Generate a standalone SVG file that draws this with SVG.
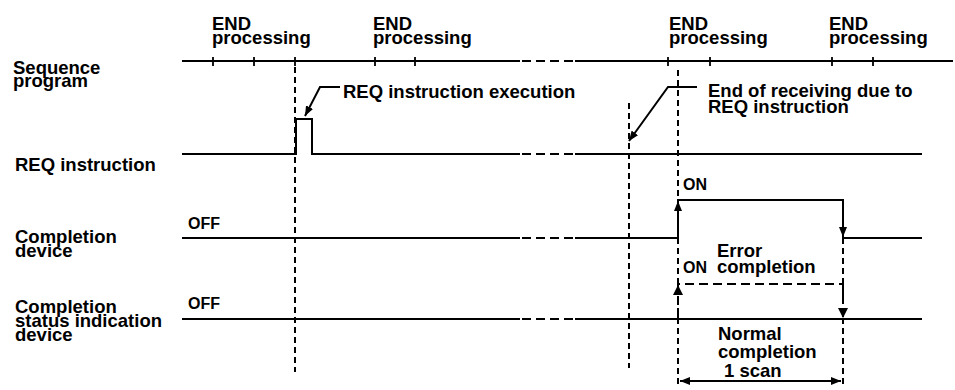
<svg xmlns="http://www.w3.org/2000/svg" width="955" height="390" viewBox="0 0 955 390">
<defs>
<style>
.t{font-family:"Liberation Sans",Arial,sans-serif;font-weight:bold;font-size:18.5px;fill:#000}
.s{font-family:"Liberation Sans",Arial,sans-serif;font-weight:bold;font-size:16px;fill:#000}
.ln{stroke:#000;stroke-width:2;fill:none}
.ds{stroke:#000;stroke-width:2;fill:none;stroke-dasharray:9 5}
.dv{stroke:#000;stroke-width:2;fill:none;stroke-dasharray:6 4}
.tk{stroke:#000;stroke-width:1.8}
</style>
<marker id="ah" viewBox="0 0 10 8" refX="10" refY="4" markerWidth="10" markerHeight="8" markerUnits="userSpaceOnUse" orient="auto-start-reverse">
<path d="M0,0 L10,4 L0,8 Z" fill="#000"/>
</marker>
</defs>
<rect width="955" height="390" fill="#fff"/>

<g id="end-labels">
<text class="t" x="212" y="29.5">END<tspan x="212" y="44">processing</tspan></text>
<text class="t" x="373" y="29.5">END<tspan x="373" y="44">processing</tspan></text>
<text class="t" x="669" y="29.5">END<tspan x="669" y="44">processing</tspan></text>
<text class="t" x="829" y="29.5">END<tspan x="829" y="44">processing</tspan></text>
</g>

<g id="sequence-program">
<text class="t" x="13" y="74">Sequence<tspan x="13" y="87">program</tspan></text>
<path class="ln" d="M182,61 H520 M575,61 H953"/>
<path class="ds" d="M522,61 H575"/>
<path class="tk" d="M213,57 V66 M254,57 V66 M295,57 V66 M375,57 V66 M415,57 V66 M668,57 V66 M710,57 V66 M832,57 V66 M873,57 V66"/>
</g>

<g id="req-instruction">
<text class="t" x="15" y="171">REQ instruction</text>
<path class="ln" d="M182,154 H296 V119 H312 V154 H520 M575,154 H922"/>
<path class="ds" d="M522,154 H575"/>
</g>

<g id="req-exec-note">
<text class="t" x="343" y="98">REQ instruction execution</text>
</g>

<g id="end-receiving-note">
<text class="t" x="708" y="97">End of receiving due to<tspan x="708" y="113">REQ instruction</tspan></text>
</g>

<g id="completion-device">
<text class="t" x="15" y="243">Completion<tspan x="15" y="257">device</tspan></text>
<text class="s" x="188" y="229">OFF</text>
<text class="s" x="683" y="190">ON</text>
<path class="ln" d="M182,238 H520 M575,238 H678 V200 H843 V238 H922"/>
<path class="ds" d="M522,238 H575"/>
</g>

<g id="completion-status">
<text class="t" x="15" y="313">Completion<tspan x="15" y="327">status indication</tspan><tspan x="15" y="341">device</tspan></text>
<text class="s" x="188" y="309">OFF</text>
<text class="s" x="683" y="273">ON</text>
<text class="t" x="717" y="257">Error<tspan x="717" y="273">completion</tspan></text>
<path class="ln" d="M182,319 H520 M575,319 H922"/>
<path class="ds" d="M522,319 H575"/>
</g>

<g id="normal-completion">
<text class="t" x="718" y="340">Normal<tspan x="718" y="358">completion</tspan><tspan x="724" y="377">1 scan</tspan></text>
</g>

<g id="connectors">
<path class="dv" d="M295,67 V372"/>
<path class="dv" d="M629,103 V368"/>
<path class="dv" d="M678,70 V200"/>
<path class="dv" d="M678,238 V388"/>
<path class="dv" d="M843,238 V388"/>
<path class="ln" d="M340,87 H320 L305,116" marker-end="url(#ah)"/>
<path class="ln" d="M697,87 H668 L629,141" marker-end="url(#ah)"/>
<path class="ln" d="M678,238 V201" marker-end="url(#ah)"/>
<path class="ln" d="M843,200 V237" marker-end="url(#ah)"/>
<path class="ds" d="M678,319 V284 H843 V318"/>
<path d="M673,295 L678,285 L683,295 Z" fill="#000"/>
<path d="M838,308 L843,318 L848,308 Z" fill="#000"/>
<path class="ln" d="M680,381 H841" marker-start="url(#ah)" marker-end="url(#ah)"/>
</g>
</svg>
